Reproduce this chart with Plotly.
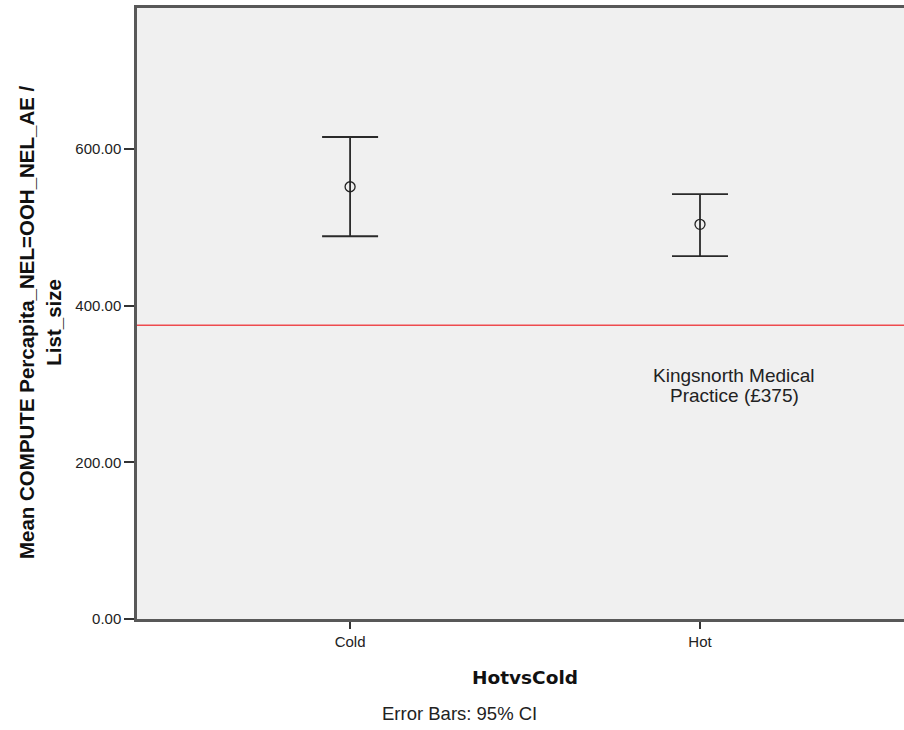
import plotly.graph_objects as go

categories = ["Cold", "Hot"]
means = [551.8, 503.8]
ci_upper = [615.3, 542.5]
ci_lower = [488.6, 463.3]
reference_value = 375
reference_label_lines = ["Kingsnorth Medical", "Practice (£375)"]
y_ticks = [0, 200, 400, 600]

err_plus = [u - m for u, m in zip(ci_upper, means)]
err_minus = [m - l for m, l in zip(means, ci_lower)]

FONT = "Liberation Sans, Arial, sans-serif"

fig = go.Figure()
fig.add_trace(go.Scatter(
    x=categories, y=means, mode="markers",
    marker=dict(symbol="circle-open", size=10, color="#222222", line=dict(width=1.3)),
    error_y=dict(type="data", symmetric=False, array=err_plus, arrayminus=err_minus,
                 color="#2a2a2a", thickness=1.8, width=28),
    showlegend=False, hoverinfo="skip",
))

fig.add_shape(type="line", xref="paper", x0=0, x1=1, yref="y",
              y0=reference_value, y1=reference_value,
              line=dict(color="#ee4a4e", width=1.6))

for i, line in enumerate(reference_label_lines):
    fig.add_annotation(x="Hot", y=reference_value, xref="x", yref="y",
                       text=line, showarrow=False,
                       font=dict(family=FONT, size=19, color="#222222"),
                       xshift=34, yshift=-(50 + 20 * i))

fig.add_annotation(xref="paper", yref="paper", x=-0.1265, y=0.486,
                   xanchor="center", yanchor="middle",
                   text="<b>Mean COMPUTE Percapita_NEL=OOH_NEL_AE /<br>List_size</b>",
                   textangle=-90, showarrow=False, align="center",
                   font=dict(family=FONT, size=20.5, color="#111111"))
fig.add_annotation(xref="paper", yref="paper", x=0.506, y=-0.095,
                   xanchor="center", yanchor="middle",
                   text="<b>HotvsCold</b>", showarrow=False,
                   font=dict(family="DejaVu Sans, sans-serif", size=18.5, color="#111111"))
fig.add_annotation(xref="paper", yref="paper", x=0.421, y=-0.154,
                   xanchor="center", yanchor="middle",
                   text="Error Bars: 95% CI", showarrow=False,
                   font=dict(family=FONT, size=18.5, color="#222222"))

fig.update_layout(
    width=904, height=730,
    margin=dict(l=137, r=0, t=8, b=111),
    paper_bgcolor="white", plot_bgcolor="#f0f0f0",
    font=dict(family=FONT, size=15, color="#222222"),
    xaxis=dict(type="category", range=[-0.609, 1.583], showgrid=False, zeroline=False,
               showline=True, mirror=True, linecolor="#585858", linewidth=2.5,
               ticks="outside", ticklen=7, tickcolor="#333333", tickwidth=1.5,
               tickfont=dict(family=FONT, size=15, color="#222222")),
    yaxis=dict(range=[0, 780], tickvals=y_ticks, tickformat=".2f",
               showgrid=False, zeroline=False,
               showline=True, linecolor="#585858", linewidth=2.5,
               ticks="outside", ticklen=10, tickcolor="#333333", tickwidth=1.5,
               tickfont=dict(family=FONT, size=15, color="#222222")),
)

fig.write_html("out.html",
               config={"displayModeBar": False},
               post_script="document.body.style.margin='0';"
                           "document.documentElement.style.overflow='hidden';")
